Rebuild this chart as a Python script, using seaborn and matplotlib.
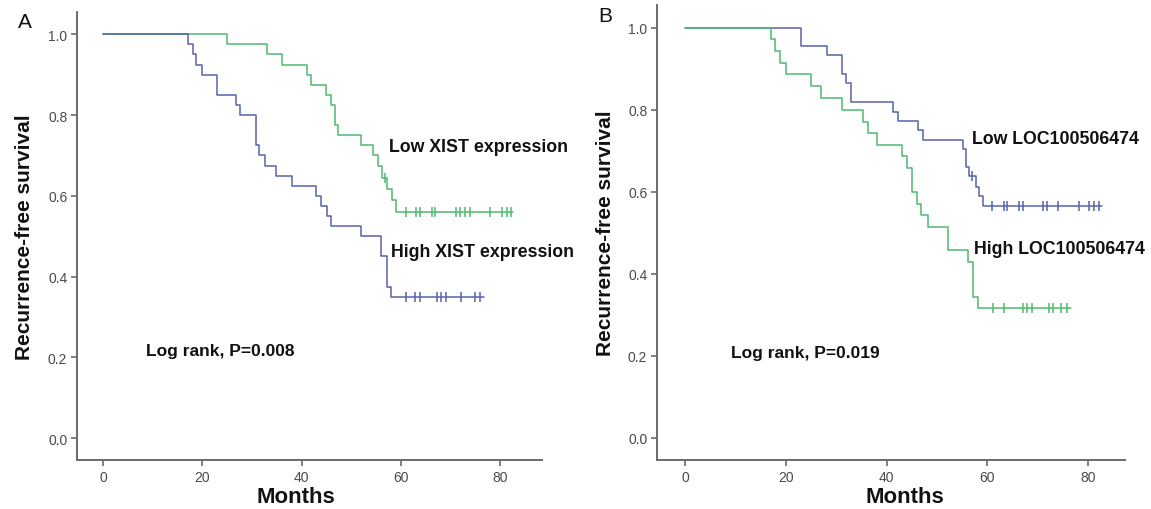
import numpy as np
import pandas as pd
import matplotlib
matplotlib.use("Agg")
import matplotlib.pyplot as plt
import seaborn as sns

# ---------------- data ----------------
# Panel A: XIST
A_low_t = [0, 24.9, 33.0, 36.0, 41.0, 42.0, 45.0, 46.0, 46.8, 47.3, 52.0, 54.5, 55.5, 56.2, 57.2, 58.2, 59.1, 82.7]
A_low_s = [1.0, .975, .95, .925, .90, .875, .85, .825, .775, .75, .725, .70, .675, .645, .617, .590, .561, .561]
A_low_cens = [56.8, 61.1, 63.0, 63.8, 66.3, 67.0, 71.2, 72.0, 73.0, 74.0, 78.0, 80.4, 81.4, 82.2]

A_high_t = [0, 17.0, 18.0, 18.8, 20.0, 23.0, 26.7, 27.6, 30.9, 31.5, 32.7, 34.9, 38.0, 43.0, 44.0, 45.2, 46.0, 52.0, 56.0, 57.2, 58.0, 76.7]
A_high_s = [1.0, .975, .95, .925, .90, .85, .825, .80, .725, .70, .675, .65, .625, .60, .575, .55, .525, .50, .45, .375, .35, .35]
A_high_cens = [61.1, 62.9, 63.8, 67.3, 68.2, 69.1, 72.1, 75.0, 76.0]

# Panel B: LOC100506474
B_low_t = [0, 23.0, 28.1, 31.1, 31.9, 33.0, 41.2, 42.2, 46.3, 47.3, 55.2, 55.8, 56.4, 57.8, 58.4, 59.1, 82.7]
B_low_s = [1.0, .955, .932, .886, .864, .818, .795, .773, .75, .727, .705, .659, .638, .612, .59, .565, .565]
B_low_cens = [57.0, 61.0, 63.2, 63.8, 66.3, 67.0, 71.0, 71.8, 74.0, 78.1, 80.2, 81.2, 82.1]

B_high_t = [0, 17.0, 17.9, 18.9, 20.0, 25.0, 27.0, 31.1, 35.2, 36.3, 38.1, 43.1, 44.1, 45.1, 46.1, 46.9, 48.1, 52.2, 56.2, 57.1, 58.1, 76.6]
B_high_s = [1.0, .971, .943, .914, .886, .857, .829, .80, .771, .743, .714, .686, .657, .60, .571, .543, .514, .457, .429, .343, .316, .316]
B_high_cens = [61.1, 63.3, 67.1, 67.8, 68.8, 72.3, 73.0, 74.6, 75.8]

x_ticks = [0, 20, 40, 60, 80]
y_ticks = [0.0, 0.2, 0.4, 0.6, 0.8, 1.0]

GREEN = "#4fb870"
BLUE = "#5663a9"

# ---------------- style ----------------
sns.set_theme(style="white")
plt.rcParams["font.family"] = ["Liberation Sans", "DejaVu Sans"]

fig = plt.figure(figsize=(11.51, 5.10), dpi=100)
axA = fig.add_axes([0.0669, 0.0961, 0.4040, 0.8784])
axB = fig.add_axes([0.5708, 0.0961, 0.4066, 0.8921])


def km(ax, t, s, cens, color):
    df = pd.DataFrame({"t": t, "s": s})
    sns.lineplot(data=df, x="t", y="s", ax=ax, color=color, lw=1.1,
                 drawstyle="steps-post", estimator=None, sort=False)
    tt = np.asarray(t)
    ss = np.asarray(s)
    idx = np.searchsorted(tt, np.asarray(cens), side="right") - 1
    cdf = pd.DataFrame({"t": cens, "s": ss[idx]})
    sns.scatterplot(data=cdf, x="t", y="s", ax=ax, marker="|", s=50,
                    color=color, linewidth=1.1, zorder=3)


def style(ax):
    ax.set_xlim(-5.3, 88.5)
    ax.set_ylim(-0.054, 1.055)
    for side in ("top", "right"):
        ax.spines[side].set_visible(False)
    for side in ("left", "bottom"):
        ax.spines[side].set_color("#6b6b6b")
        ax.spines[side].set_linewidth(1.4)
    ax.set_xticks(x_ticks)
    ax.set_yticks(y_ticks)
    ax.set_xticklabels([str(v) for v in x_ticks])
    ax.set_yticklabels([f"{v:.1f}" for v in y_ticks])
    ax.tick_params(axis="both", direction="out", length=4, width=1.2,
                   color="#6b6b6b", labelsize=10, labelcolor="#4a4a4a",
                   left=True, bottom=True, pad=3)
    ax.set_xlabel("Months", fontsize=16, fontweight="bold", color="#111111")
    ax.set_ylabel("Recurrence-free survival", fontsize=15, fontweight="bold",
                  color="#111111")
    ax.xaxis.set_label_coords(0.47, -0.058)
    ax.yaxis.set_label_coords(-0.093, 0.5)
    ax.grid(False)


km(axA, A_low_t, A_low_s, A_low_cens, GREEN)
km(axA, A_high_t, A_high_s, A_high_cens, BLUE)
style(axA)
axA.text(57.7, 0.721, "Low XIST expression", fontsize=12.8, fontweight="bold",
         va="center", ha="left", color="#111111")
axA.text(58.0, 0.461, "High XIST expression", fontsize=12.8, fontweight="bold",
         va="center", ha="left", color="#111111")
axA.text(8.6, 0.216, "Log rank, P=0.008", fontsize=12.5, fontweight="bold",
         va="center", ha="left", color="#111111")

km(axB, B_low_t, B_low_s, B_low_cens, BLUE)
km(axB, B_high_t, B_high_s, B_high_cens, GREEN)
style(axB)
axB.set_xlim(-5.6, 87.3)
axB.xaxis.set_label_coords(0.53, -0.058)
axB.yaxis.set_label_coords(-0.09, 0.5)
axB.text(56.9, 0.730, "Low LOC100506474", fontsize=12.8, fontweight="bold",
         va="center", ha="left", color="#111111")
axB.text(57.4, 0.462, "High LOC100506474", fontsize=12.8, fontweight="bold",
         va="center", ha="left", color="#111111")
axB.text(9.1, 0.209, "Log rank, P=0.019", fontsize=12.5, fontweight="bold",
         va="center", ha="left", color="#111111")

fig.text(25 / 1151, 1 - 22 / 510, "A", fontsize=15, ha="center", va="center",
         color="#111111")
fig.text(605 / 1151, 1 - 17 / 510, "B", fontsize=15, ha="center", va="center",
         color="#111111")

for ax in (axA, axB):
    leg = ax.get_legend()
    if leg is not None:
        leg.remove()

fig.savefig("out.png", dpi=100)
